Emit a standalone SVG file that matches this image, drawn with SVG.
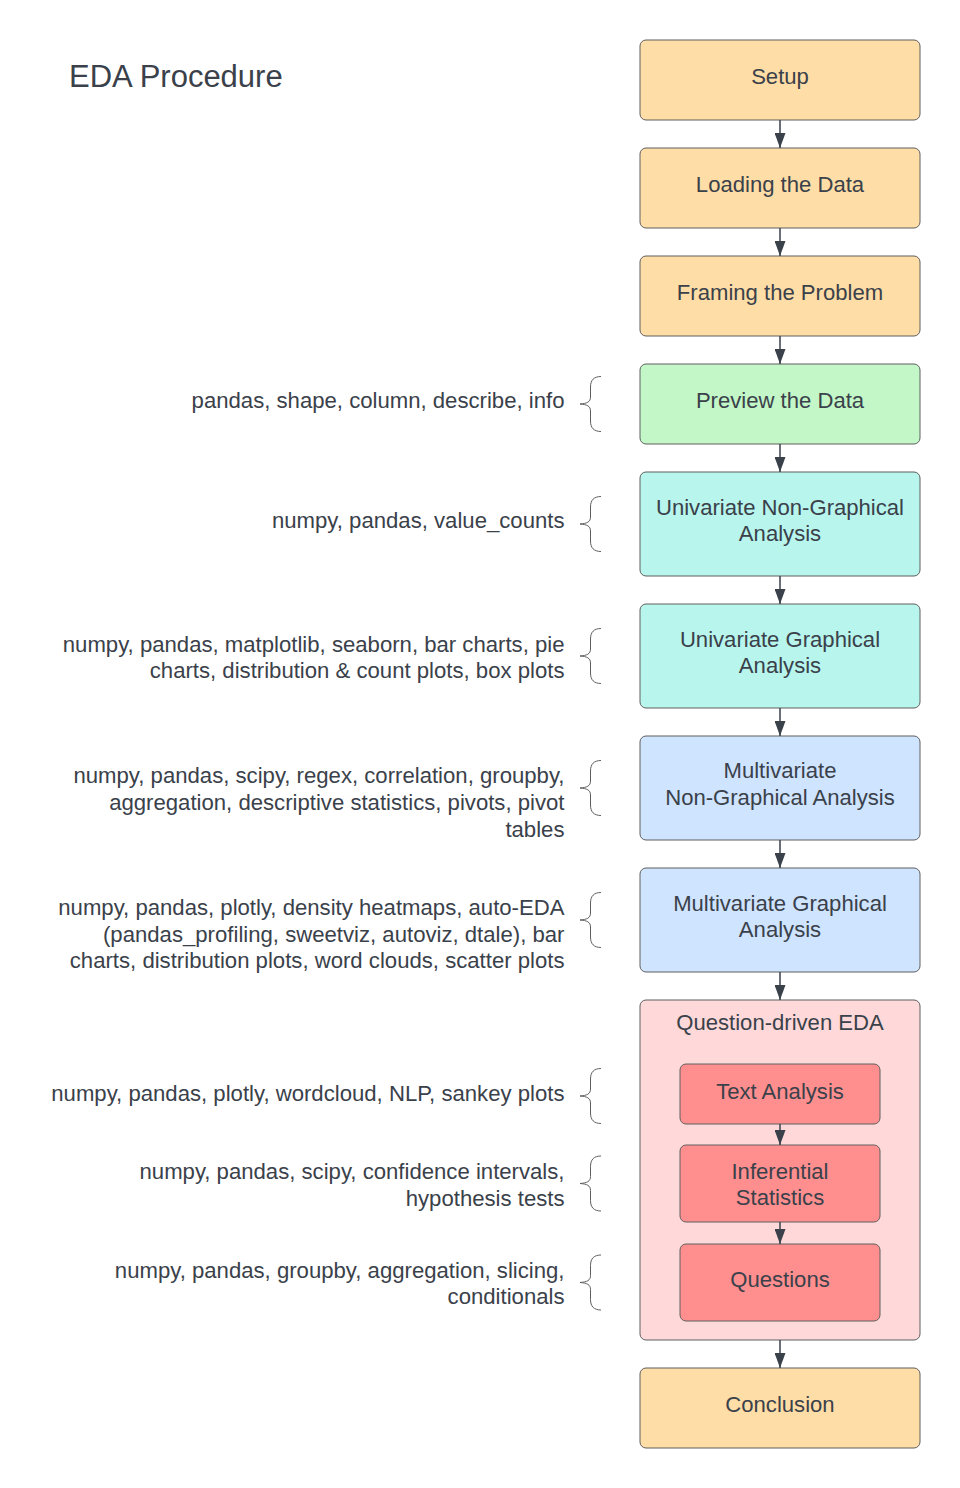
<svg xmlns="http://www.w3.org/2000/svg" width="960" height="1488" viewBox="0 0 960 1488">
<style>
  text { font-family: "Liberation Sans", Arial, sans-serif; fill: #3a414a; }
  .node text { font-size: 22.1px; text-anchor: middle; }
  .note { font-size: 22.15px; text-anchor: end; }
  .box { stroke: #5e5e5e; stroke-width: 1; }
  .orange { fill: #ffdda6; }
  .green { fill: #c3f7c8; }
  .teal { fill: #b8f5ed; }
  .blue { fill: #cfe4ff; }
  .pink { fill: #ffd9d9; }
  .red { fill: #ff8f8f; }
  .brace { fill: none; stroke: #5e5e5e; stroke-width: 1; }
  .conn line { stroke: #3a414a; stroke-width: 1.5; }
</style>
<defs>
  <marker id="arrow" viewBox="0 0 15 11" markerWidth="15" markerHeight="11" refX="15" refY="5.5" orient="auto" markerUnits="userSpaceOnUse">
    <path d="M0,0 L15,5.5 L0,11 z" fill="#3a414a"/>
  </marker>
  <path id="brace" class="brace" d="M601,-27.5 C594,-27.5 590.5,-24 590.5,-17 L590.5,-7 C590.5,-2 587,-0.5 580,0 C587,0.5 590.5,2 590.5,7 L590.5,17 C590.5,24 594,27.5 601,27.5"/>
</defs>
<rect width="960" height="1488" fill="#ffffff"/>

<text x="69" y="87" style="font-size:31px">EDA Procedure</text>

<g id="setup" class="node">
  <rect class="box orange" x="640" y="40" width="280" height="80" rx="6"/>
  <text x="780" y="84">Setup</text>
</g>
<g id="loading" class="node">
  <rect class="box orange" x="640" y="148" width="280" height="80" rx="6"/>
  <text x="780" y="192">Loading the Data</text>
</g>
<g id="framing" class="node">
  <rect class="box orange" x="640" y="256" width="280" height="80" rx="6"/>
  <text x="780" y="300">Framing the Problem</text>
</g>
<g id="preview" class="node">
  <rect class="box green" x="640" y="364" width="280" height="80" rx="6"/>
  <text x="780" y="408">Preview the Data</text>
</g>
<g id="uni-ng" class="node">
  <rect class="box teal" x="640" y="472" width="280" height="104" rx="6"/>
  <text x="780" y="514.5">Univariate Non-Graphical</text>
  <text x="780" y="541">Analysis</text>
</g>
<g id="uni-g" class="node">
  <rect class="box teal" x="640" y="604" width="280" height="104" rx="6"/>
  <text x="780" y="646.5">Univariate Graphical</text>
  <text x="780" y="673">Analysis</text>
</g>
<g id="multi-ng" class="node">
  <rect class="box blue" x="640" y="736" width="280" height="104" rx="6"/>
  <text x="780" y="778">Multivariate</text>
  <text x="780" y="804.5">Non-Graphical Analysis</text>
</g>
<g id="multi-g" class="node">
  <rect class="box blue" x="640" y="868" width="280" height="104" rx="6"/>
  <text x="780" y="910.5">Multivariate Graphical</text>
  <text x="780" y="937">Analysis</text>
</g>
<g id="question-driven" class="node">
  <rect class="box pink" x="640" y="1000" width="280" height="340" rx="6"/>
  <text x="780" y="1030">Question-driven EDA</text>
</g>
<g id="text-analysis" class="node">
  <rect class="box red" x="680" y="1064" width="200" height="60" rx="6"/>
  <text x="780" y="1098.5">Text Analysis</text>
</g>
<g id="inferential" class="node">
  <rect class="box red" x="680" y="1145" width="200" height="77" rx="6"/>
  <text x="780" y="1178.5">Inferential</text>
  <text x="780" y="1204.5">Statistics</text>
</g>
<g id="questions" class="node">
  <rect class="box red" x="680" y="1244" width="200" height="77" rx="6"/>
  <text x="780" y="1287">Questions</text>
</g>
<g id="conclusion" class="node">
  <rect class="box orange" x="640" y="1368" width="280" height="80" rx="6"/>
  <text x="780" y="1412">Conclusion</text>
</g>

<g id="connectors" class="conn">
  <line x1="780" y1="120" x2="780" y2="148" marker-end="url(#arrow)"/>
  <line x1="780" y1="228" x2="780" y2="256" marker-end="url(#arrow)"/>
  <line x1="780" y1="336" x2="780" y2="364" marker-end="url(#arrow)"/>
  <line x1="780" y1="444" x2="780" y2="472" marker-end="url(#arrow)"/>
  <line x1="780" y1="576" x2="780" y2="604" marker-end="url(#arrow)"/>
  <line x1="780" y1="708" x2="780" y2="736" marker-end="url(#arrow)"/>
  <line x1="780" y1="840" x2="780" y2="868" marker-end="url(#arrow)"/>
  <line x1="780" y1="972" x2="780" y2="1000" marker-end="url(#arrow)"/>
  <line x1="780" y1="1124" x2="780" y2="1145" marker-end="url(#arrow)"/>
  <line x1="780" y1="1222" x2="780" y2="1244" marker-end="url(#arrow)"/>
  <line x1="780" y1="1340" x2="780" y2="1368" marker-end="url(#arrow)"/>
</g>

<g id="annotations">
  <g id="note-preview">
    <text class="note" x="564.5" y="408">pandas, shape, column, describe, info</text>
    <use href="#brace" y="404"/>
  </g>
  <g id="note-uni-ng">
    <text class="note" x="564.5" y="528">numpy, pandas, value_counts</text>
    <use href="#brace" y="524"/>
  </g>
  <g id="note-uni-g">
    <text class="note" x="564.5" y="651.5">numpy, pandas, matplotlib, seaborn, bar charts, pie</text>
    <text class="note" x="564.5" y="678">charts, distribution &amp; count plots, box plots</text>
    <use href="#brace" y="656"/>
  </g>
  <g id="note-multi-ng">
    <text class="note" x="564.5" y="783">numpy, pandas, scipy, regex, correlation, groupby,</text>
    <text class="note" x="564.5" y="810">aggregation, descriptive statistics, pivots, pivot</text>
    <text class="note" x="564.5" y="836.5">tables</text>
    <use href="#brace" y="788"/>
  </g>
  <g id="note-multi-g">
    <text class="note" x="564.5" y="915">numpy, pandas, plotly, density heatmaps, auto-EDA</text>
    <text class="note" x="564.5" y="941.5">(pandas_profiling, sweetviz, autoviz, dtale), bar</text>
    <text class="note" x="564.5" y="968">charts, distribution plots, word clouds, scatter plots</text>
    <use href="#brace" y="920"/>
  </g>
  <g id="note-text">
    <text class="note" x="564.5" y="1100.5">numpy, pandas, plotly, wordcloud, NLP, sankey plots</text>
    <use href="#brace" y="1096"/>
  </g>
  <g id="note-inferential">
    <text class="note" x="564.5" y="1179">numpy, pandas, scipy, confidence intervals,</text>
    <text class="note" x="564.5" y="1205.5">hypothesis tests</text>
    <use href="#brace" y="1183.5"/>
  </g>
  <g id="note-questions">
    <text class="note" x="564.5" y="1277.5">numpy, pandas, groupby, aggregation, slicing,</text>
    <text class="note" x="564.5" y="1304">conditionals</text>
    <use href="#brace" y="1282.5"/>
  </g>
</g>
</svg>
